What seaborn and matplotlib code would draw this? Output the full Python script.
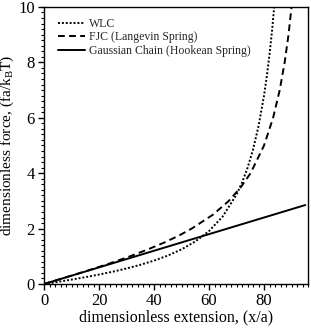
import numpy as np
import pandas as pd
import matplotlib
matplotlib.use("Agg")
import matplotlib.pyplot as plt
from matplotlib.ticker import MultipleLocator
import seaborn as sns

# ================== data ==================
wlc_x = [0, 5, 10, 15, 20, 25, 30, 35, 40, 45, 50, 55, 60, 65, 70, 72, 74, 76, 78, 80, 81, 82, 83, 84]
wlc_y = [0, 0.077, 0.159, 0.246, 0.341, 0.444, 0.560, 0.692, 0.844, 1.026, 1.25, 1.535, 1.91,
         2.44, 3.23, 3.66, 4.19, 4.85, 5.70, 6.80, 7.49, 8.29, 9.23, 10.36]

fjc_x = [0, 8.3, 16.4, 24.1, 31.3, 37.8, 43.8, 49.1, 53.7, 61.4, 67.2, 71.6, 75.1, 80.0, 83.3, 85.7, 87.5, 88.9, 90.0, 90.5]
fjc_y = [0, 0.25, 0.5, 0.75, 1.0, 1.25, 1.5, 1.75, 2.0, 2.5, 3.0, 3.5, 4.0, 5.0, 6.0, 7.0, 8.0, 9.0, 10.0, 10.5]

gauss_x = [0, 95]
gauss_y = [0, 2.85]

labels = ["WLC", "FJC (Langevin Spring)", "Gaussian Chain (Hookean Spring)"]
# =============================================================

sns.set_style("ticks")
plt.rcParams['font.family'] = ['Liberation Serif', 'DejaVu Serif']
plt.rcParams['mathtext.fontset'] = 'custom'
plt.rcParams['mathtext.rm'] = 'Liberation Serif'
plt.rcParams['mathtext.it'] = 'Liberation Serif'

fig = plt.figure(figsize=(3.11, 3.31), dpi=100)
ax = fig.add_axes([0.1415, 0.142, 0.849, 0.837])

curves = [
    (wlc_x, wlc_y, labels[0], (0, (1.0, 1.0))),
    (fjc_x, fjc_y, labels[1], (0, (3.5, 2.2))),
    (gauss_x, gauss_y, labels[2], "-"),
]
for xs, ys, lab, ls in curves:
    df = pd.DataFrame({"x": xs, "y": ys})
    sns.lineplot(data=df, x="x", y="y", ax=ax, color="black", linewidth=1.4,
                 linestyle=ls, label=lab, sort=False, estimator=None)

ax.set_xlim(0, 96)
ax.set_ylim(0, 10)
ax.xaxis.set_major_locator(MultipleLocator(20))
ax.xaxis.set_minor_locator(MultipleLocator(2))
ax.yaxis.set_major_locator(MultipleLocator(2))
ax.yaxis.set_minor_locator(MultipleLocator(0.2))
ax.tick_params(which="major", direction="out", length=4.5, width=1.0, labelsize=12, pad=2,
               color="black", labelcolor="black")
ax.tick_params(which="minor", direction="out", length=2.5, width=0.8, color="black")
for sp in ax.spines.values():
    sp.set_linewidth(1.0)
    sp.set_color("black")

ax.set_xlabel("dimensionless extension, (x/a)", fontsize=11.5, labelpad=0, color="black")
ax.set_ylabel(r"dimensionless force, (fa/k$_\mathrm{B}$T)", fontsize=11, labelpad=0, color="black")
ax.yaxis.set_label_coords(-0.105, 0.5)

ax.legend(loc="upper left", frameon=False, fontsize=8.5, handlelength=2.3,
          handletextpad=0.4, labelspacing=0.12, borderaxespad=0.3,
          bbox_to_anchor=(0.02, 0.99))

plt.savefig("out.png", dpi=100)
